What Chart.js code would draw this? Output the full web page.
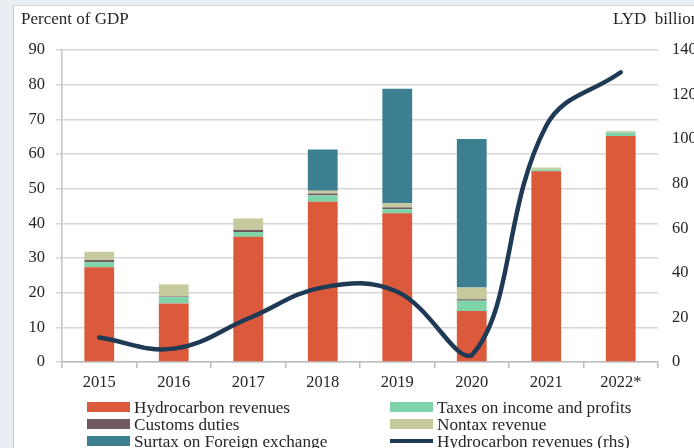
<!DOCTYPE html>
<html>
<head>
<meta charset="utf-8">
<script src="https://cdn.jsdelivr.net/npm/chart.js@4.4.1/dist/chart.umd.min.js"></script>
<style>
  html, body { margin: 0; padding: 0; width: 694px; height: 448px; overflow: hidden; background: #e8eef4; }
  #panel { position: absolute; left: 13px; top: 5px; width: 720px; height: 480px; background: #fff;
           border-left: 1px solid #c4c8cc; border-top: 1px solid #d4d8dc; }
  #wrap { position: absolute; left: 0; top: 0; width: 720px; height: 448px; }
</style>
</head>
<body>
<div id="panel"></div>
<div id="wrap"><canvas id="chart" width="720" height="448"></canvas></div>
<script>
// Government revenue, percent of GDP (stacked bars) and hydrocarbon revenue in LYD billion (line, rhs)
const years = ['2015', '2016', '2017', '2018', '2019', '2020', '2021', '2022*'];
const hydrocarbon = [27.3, 16.9, 36.1, 46.2, 42.9, 14.7, 55.0, 65.2];
const taxesIncome = [1.5, 1.8, 1.4, 1.9, 1.2, 3.0, 0.5, 1.0];
const customs = [0.6, 0.2, 0.6, 0.5, 0.5, 0.4, 0, 0];
const nontax = [2.4, 3.5, 3.3, 0.8, 1.2, 3.4, 0.6, 0.4];
const surtax = [0, 0, 0, 11.9, 33.0, 42.8, 0, 0];
const hydroLyd = [11, 6, 19.5, 33.5, 31.5, 3, 106, 130];
const leftTicks = [0, 10, 20, 30, 40, 50, 60, 70, 80, 90];
const rightTicks = [0, 20, 40, 60, 80, 100, 120, 140];

const FONT = '"Liberation Serif", "Times New Roman", serif';
const TEXT = '#262626';

function bar(label, data, color) {
    return { type: 'bar', label: label, data: data, backgroundColor: color, stack: 's', yAxisID: 'y',
             order: 1, barPercentage: 0.4, categoryPercentage: 1.0 };
}

// Titles above the axes and the two-column legend under the chart
const decor = {
    id: 'decor',
    afterDraw(chart) {
        const ctx = chart.ctx;
        ctx.save();
        ctx.fillStyle = TEXT;
        ctx.font = '17px ' + FONT;
        ctx.textBaseline = 'middle';
        ctx.textAlign = 'left';
        ctx.fillText('Percent of GDP', 21, 20);
        ctx.fillText('LYD  billion', 613, 20);

        const ds = chart.data.datasets;
        const slots = [
            [0, 87, 407], [2, 87, 424], [4, 87, 441],
            [1, 390, 407], [3, 390, 424], [5, 390, 441]
        ];
        ctx.font = '17.2px ' + FONT;
        slots.forEach(([i, x, y]) => {
            const d = ds[i];
            if (d.type === 'line') {
                ctx.strokeStyle = d.borderColor;
                ctx.lineWidth = 4;
                ctx.beginPath();
                ctx.moveTo(x, y);
                ctx.lineTo(x + 43, y);
                ctx.stroke();
            } else {
                ctx.fillStyle = d.backgroundColor;
                ctx.fillRect(x, y - 5, 43, 10);
            }
            ctx.fillStyle = TEXT;
            ctx.fillText(d.label, x + 47, y + 1);
        });
        ctx.restore();
    }
};

new Chart(document.getElementById('chart').getContext('2d'), {
    data: {
        labels: years,
        datasets: [
            bar('Hydrocarbon revenues', hydrocarbon, '#dc5a3c'),
            bar('Taxes on income and profits', taxesIncome, '#7fd3a8'),
            bar('Customs duties', customs, '#6e5a60'),
            bar('Nontax revenue', nontax, '#c6ca9c'),
            bar('Surtax on Foreign exchange', surtax, '#3b7f90'),
            {
                type: 'line', label: 'Hydrocarbon revenues (rhs)', data: hydroLyd, yAxisID: 'y1',
                borderColor: '#1e3a55', borderWidth: 4.5, pointRadius: 0, tension: 0.4,
                borderCapStyle: 'round', order: 0, fill: false
            }
        ]
    },
    options: {
        responsive: false,
        animation: false,
        layout: { padding: { left: 0, top: 50, right: 12, bottom: 56 } },
        plugins: { legend: { display: false }, tooltip: { enabled: false } },
        scales: {
            x: {
                stacked: true,
                afterFit(s) { s.height = 30; },
                grid: { offset: true, drawOnChartArea: false, color: '#bdbdbd', tickLength: 6, lineWidth: 1.5 },
                border: { color: '#bdbdbd', width: 1.5 },
                ticks: { color: TEXT, font: { family: FONT, size: 16.5 }, padding: 5 }
            },
            y: {
                stacked: true,
                min: 0, max: 90,
                afterFit(s) { s.width = 62; },
                afterBuildTicks(s) { s.ticks = leftTicks.map(v => ({ value: v })); },
                grid: { color: '#d6d6d6', lineWidth: 1.5, tickLength: 6 },
                border: { color: '#c4c4c4', width: 1.5 },
                ticks: { color: TEXT, font: { family: FONT, size: 16.5 }, padding: 11 }
            },
            y1: {
                position: 'right',
                min: 0, max: 140,
                afterFit(s) { s.width = 50; },
                afterBuildTicks(s) { s.ticks = rightTicks.map(v => ({ value: v })); },
                grid: { display: false },
                border: { display: false },
                ticks: { color: TEXT, font: { family: FONT, size: 16.5 }, padding: 6 }
            }
        }
    },
    plugins: [decor]
});
</script>
</body>
</html>
